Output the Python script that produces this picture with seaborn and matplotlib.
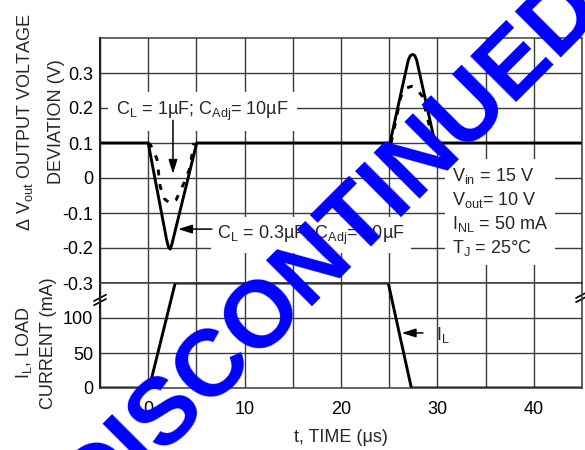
import matplotlib
matplotlib.use("Agg")
import matplotlib.pyplot as plt
import seaborn as sns
import pandas as pd
from matplotlib.ticker import FixedLocator, MultipleLocator

# ---------------- data ----------------
# output voltage deviation, C_L = 0.3 uF (solid)
t_solid = [-5, 0.0, 1.9, 2.1, 2.28, 2.45, 5.03, 25.08, 26.98, 27.2, 27.44, 27.65, 27.85, 29.75, 45]
v_solid = [0.1, 0.1, -0.175, -0.197, -0.203, -0.19, 0.1, 0.1, 0.337, 0.35, 0.353, 0.35, 0.337, 0.1, 0.1]
# output voltage deviation, C_L = 1 uF (dashed) - first transient
t_dash1 = [0.0, 0.25, 0.9, 1.25, 1.7, 2.3, 2.9, 3.7, 4.35, 4.65, 4.75]
v_dash1 = [0.1, 0.094, 0.055, -0.025, -0.06, -0.073, -0.062, -0.015, 0.03, 0.088, 0.1]
# second transient
t_dash2 = [25.2, 26.2, 26.8, 27.3, 27.8, 28.4, 29.6]
v_dash2 = [0.1, 0.232, 0.257, 0.262, 0.255, 0.235, 0.1]
# load current
t_load = [-5, 0.1, 2.8, 24.9, 27.3, 45]
i_load = [0, 0, 150, 150, 0, 0]

x_ticks = [0, 10, 20, 30, 40]
v_ticks = [-0.3, -0.2, -0.1, 0, 0.1, 0.2, 0.3]
v_tick_labels = ["-0.3", "-0.2", "-0.1", "0", "0.1", "0.2", "0.3"]
i_ticks = [0, 50, 100]
i_tick_labels = ["0", "50", "100"]

# ---------------- style ----------------
sns.set_theme(style="white")
plt.rcParams['font.family'] = ['Liberation Sans', 'DejaVu Sans']
plt.rcParams['mathtext.default'] = 'regular'

GRID = '#3c3c3c'
FS = 13
LW = 2.1

fig = plt.figure(figsize=(5.85, 4.5), dpi=100)
W, H = 585.0, 450.0
L, R = 100 / W, 582 / W
T, M, B = 1 - 38 / H, 1 - 283 / H, 1 - 388 / H
ax_v = fig.add_axes([L, M, R - L, T - M])
ax_i = fig.add_axes([L, B, R - L, M - B], sharex=ax_v)

df_solid = pd.DataFrame({"t": t_solid, "v": v_solid})
df_d1 = pd.DataFrame({"t": t_dash1, "v": v_dash1})
df_d2 = pd.DataFrame({"t": t_dash2, "v": v_dash2})
df_load = pd.DataFrame({"t": t_load, "i": i_load})

sns.lineplot(data=df_solid, x="t", y="v", ax=ax_v, color="black", lw=LW,
             sort=False, estimator=None)
for d in (df_d1, df_d2):
    sns.lineplot(data=d, x="t", y="v", ax=ax_v, color="black", lw=LW,
                 sort=False, estimator=None, linestyle=(0, (2, 3)))
sns.lineplot(data=df_load, x="t", y="i", ax=ax_i, color="black", lw=LW,
             sort=False, estimator=None)

for ax in (ax_v, ax_i):
    ax.set_xlim(-5, 45)
    ax.xaxis.set_major_locator(FixedLocator(x_ticks))
    ax.xaxis.set_minor_locator(MultipleLocator(5))
    ax.set_axisbelow(True)
    ax.grid(True, which="both", color=GRID, lw=1.0)
    ax.tick_params(axis="both", which="both", length=0, labelsize=FS, colors="black")
    ax.set_facecolor("white")
    for s in ax.spines.values():
        s.set_color(GRID)
        s.set_linewidth(1.1)
    ax.set_xlabel("")
    ax.set_ylabel("")

ax_v.set_ylim(-0.3, 0.4)
ax_v.yaxis.set_major_locator(FixedLocator(v_ticks))
ax_v.set_yticklabels(v_tick_labels)
ax_v.yaxis.set_minor_locator(FixedLocator([]))
ax_v.tick_params(axis="x", labelbottom=False)
ax_v.tick_params(axis="y", pad=5)
ax_v.spines["left"].set_color("#202020")
ax_v.spines["left"].set_linewidth(1.5)

ax_i.set_ylim(0, 150)
ax_i.yaxis.set_major_locator(FixedLocator(i_ticks))
ax_i.set_yticklabels(i_tick_labels)
ax_i.yaxis.set_minor_locator(FixedLocator([]))
ax_i.tick_params(axis="y", pad=5)
ax_i.tick_params(axis="x", pad=9)
ax_i.spines["left"].set_color("#202020")
ax_i.spines["left"].set_linewidth(1.5)

# axis labels
ax_v.set_ylabel("\u0394 V$_{out}$ OUTPUT VOLTAGE\nDEVIATION (V)", fontsize=FS, linespacing=2.0)
ax_v.yaxis.label.set_va("center")
ax_v.yaxis.label.set_ha("center")
ax_v.yaxis.set_label_coords(-0.125, 0.657)

ax_i.set_ylabel("I$_L$, LOAD\nCURRENT (mA)", fontsize=FS, linespacing=1.42)
ax_i.yaxis.label.set_va("center")
ax_i.yaxis.label.set_ha("center")
ax_i.yaxis.set_label_coords(-0.134, 0.43)

ax_i.set_xlabel("t, TIME (\u03bcs)", fontsize=FS, labelpad=8)

# annotations
arrow = dict(arrowstyle="-|>,head_length=0.7,head_width=0.22",
             color="black", lw=1.1, shrinkA=0, shrinkB=0)
ax_v.text(5.6, 0.19, "C$_L$ = 1\u00b5F; C$_{Adj}$= 10\u00b5F", fontsize=FS,
          ha="center", va="center", bbox=dict(facecolor="white", edgecolor="none",
                                               boxstyle="square,pad=0.45"))
ax_v.annotate("", xy=(2.57, 0.012), xytext=(2.57, 0.165), arrowprops=arrow)

ax_v.text(16.9, -0.163, "C$_L$ = 0.3\u00b5F; C$_{Adj}$= 10\u00b5F", fontsize=FS,
          ha="center", va="center", bbox=dict(facecolor="white", edgecolor="none",
                                               boxstyle="square,pad=0.35"))
ax_v.annotate("", xy=(3.1, -0.146), xytext=(6.6, -0.146), arrowprops=arrow)

ax_v.text(31.5, -0.097,
          "V$_{in}$ = 15 V\nV$_{out}$= 10 V\nI$_{NL}$ = 50 mA\nT$_J$ = 25\u00b0C",
          fontsize=FS, ha="left", va="center", linespacing=1.25,
          bbox=dict(facecolor="white", edgecolor="none", boxstyle="square,pad=0.4"))

ax_i.annotate("", xy=(26.3, 78.6), xytext=(28.5, 78.6), arrowprops=arrow)
ax_i.text(29.85, 75.7, "I$_L$", fontsize=FS, ha="left", va="center")

# axis break marks
brk = dict(color="black", lw=1.2, clip_on=False, transform=ax_i.transAxes)
for xb, yb in ((0.0, 0.838), (1.0, 0.867)):
    for off in (-0.02, 0.02):
        ax_i.plot([xb - 0.0125, xb + 0.0125], [yb + off - 0.03, yb + off + 0.03], **brk)

# watermark
fig.text(0.598, 0.4156, "DISCONTINUED", rotation=45, rotation_mode="anchor",
         fontsize=68, fontweight="bold", color="#0000ff", ha="center", va="baseline",
         family=["Liberation Sans", "DejaVu Sans"], zorder=20)

fig.savefig("out.png", dpi=100)
